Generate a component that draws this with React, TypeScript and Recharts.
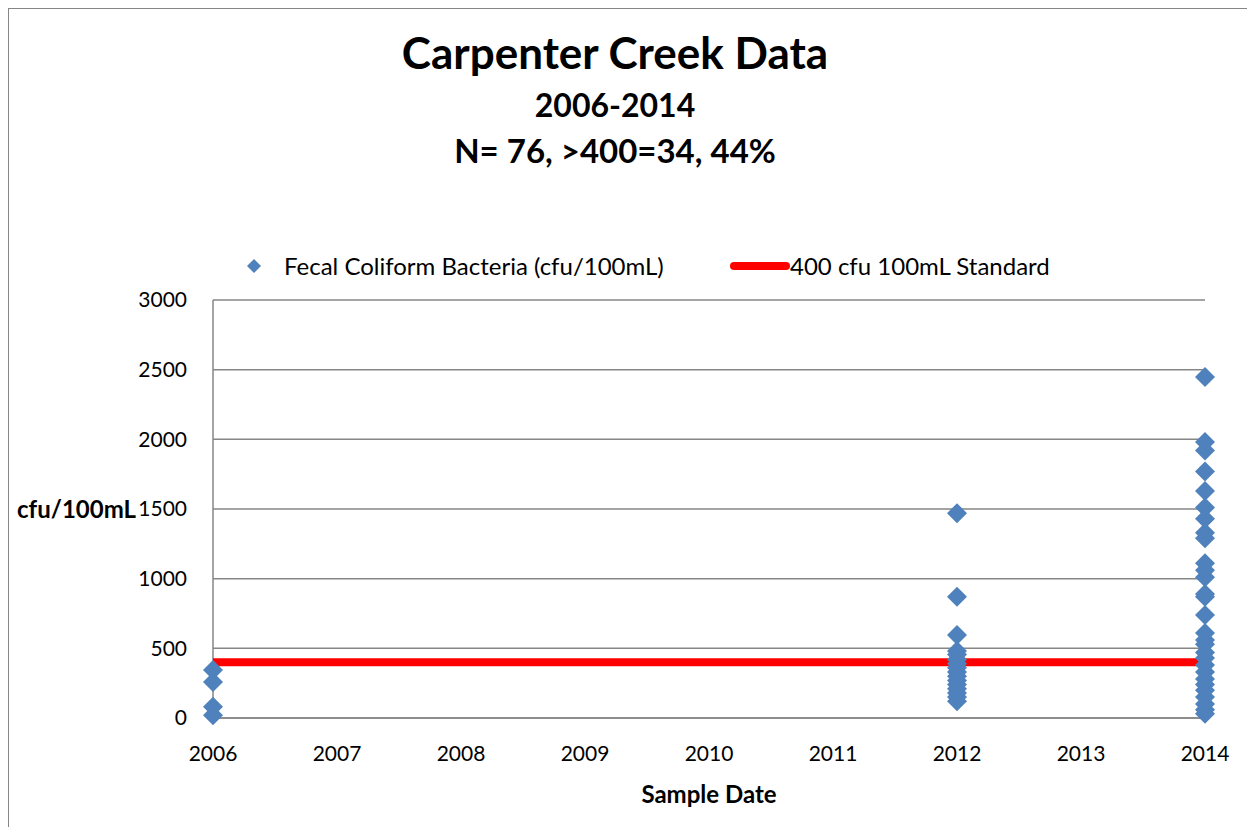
import React from 'react';
import {
  ScatterChart,
  Scatter,
  XAxis,
  YAxis,
  CartesianGrid,
  Legend,
} from 'recharts';

// sample values, grouped by sample year
const samples2006 = [345, 258, 80, 20];
const samples2012 = [1470, 870, 595, 480, 455, 420, 390, 360, 330, 300, 270, 240, 210, 180, 150, 120];
const samples2014 = [
  2448, 1980, 1920, 1770, 1630, 1510, 1430, 1330, 1290, 1110, 1060, 1010, 890, 870, 740,
  610, 560, 530, 470, 430, 380, 330, 280, 240, 200, 150, 100, 60, 30,
];

const yearTicks = [2006, 2007, 2008, 2009, 2010, 2011, 2012, 2013, 2014];
const valueTicks = [0, 500, 1000, 1500, 2000, 2500, 3000];

const standardValue = 400;
const standardYears = [2006, 2014];

const BLUE = '#4F81BD';
const RED = '#FF0000';
const GRID = '#868686';
const FONT = 'Lato, "Open Sans", sans-serif';

const bacteriaData = [
  ...samples2006.map((y) => ({ x: 2006, y })),
  ...samples2012.map((y) => ({ x: 2012, y })),
  ...samples2014.map((y) => ({ x: 2014, y })),
];

const standardData = standardYears.map((x) => ({ x, y: standardValue }));

const Diamond = (props: any) => {
  const { cx, cy } = props;
  const r = 10;
  return (
    <path
      d={`M${cx},${cy - r} L${cx + r},${cy} L${cx},${cy + r} L${cx - r},${cy} Z`}
      fill={BLUE}
    />
  );
};

const NoShape = () => <g />;

const CustomLegend = () => (
  <div
    style={{
      position: 'relative',
      height: 29,
      fontFamily: FONT,
      fontSize: 24,
      lineHeight: '29px',
      color: '#000',
    }}
  >
    <svg width={14} height={14} style={{ position: 'absolute', left: 239, top: 8 }}>
      <path d="M7,0 L14,7 L7,14 L0,7 Z" fill={BLUE} />
    </svg>
    <span style={{ position: 'absolute', left: 276, top: 0, whiteSpace: 'nowrap' }}>
      Fecal Coliform Bacteria (cfu/100mL)
    </span>
    <div
      style={{
        position: 'absolute',
        left: 722,
        top: 11,
        width: 60,
        height: 8,
        borderRadius: 4,
        background: RED,
      }}
    />
    <span style={{ position: 'absolute', left: 782, top: 0, whiteSpace: 'nowrap' }}>
      400 cfu 100mL Standard
    </span>
  </div>
);

const App = () => {
  return (
    <div
      style={{
        position: 'relative',
        width: 1247,
        height: 819,
        borderTop: '1px solid #868686',
        borderLeft: '1px solid #868686',
        boxSizing: 'border-box',
        background: '#fff',
        fontFamily: FONT,
      }}
    >
      <div
        style={{
          position: 'absolute',
          left: 0,
          width: 1212,
          top: 0,
          textAlign: 'center',
          fontWeight: 700,
          color: '#000',
        }}
      >
        <div style={{ position: 'absolute', top: 17, width: '100%', fontSize: 44 }}>
          Carpenter Creek Data
        </div>
        <div style={{ position: 'absolute', top: 76, width: '100%', fontSize: 32 }}>
          2006-2014
        </div>
        <div style={{ position: 'absolute', top: 121, width: '100%', fontSize: 33 }}>
          N= 76, &gt;400=34, 44%
        </div>
      </div>
      <div style={{ position: 'absolute', left: -1, top: -1 }}>
        <ScatterChart
          width={1247}
          height={819}
          margin={{ top: 263, right: 50, left: 0, bottom: 0 }}
        >
          <CartesianGrid vertical={false} stroke={GRID} strokeWidth={1.5} />
          <XAxis
            type="number"
            dataKey="x"
            domain={[2006, 2014]}
            ticks={yearTicks}
            interval={0}
            height={109}
            tickLine={false}
            tickSize={0}
            tickMargin={28}
            axisLine={{ stroke: GRID, strokeWidth: 1.5 }}
            tick={{ fill: '#000', fontSize: 21, fontFamily: FONT }}
            label={{
              value: 'Sample Date',
              position: 'insideTop',
              offset: 68,
              style: { fill: '#000', fontSize: 24, fontWeight: 700, fontFamily: FONT },
            }}
          />
          <YAxis
            type="number"
            dataKey="y"
            domain={[0, 3000]}
            ticks={valueTicks}
            interval={0}
            width={205}
            tickLine={false}
            tickSize={0}
            tickMargin={26}
            axisLine={{ stroke: GRID, strokeWidth: 1.5 }}
            tick={{ fill: '#000', fontSize: 21, fontFamily: FONT }}
            label={{
              value: 'cfu/100mL',
              position: 'insideLeft',
              offset: 9,
              style: {
                fill: '#000',
                fontSize: 24,
                fontWeight: 700,
                fontFamily: FONT,
                textAnchor: 'start',
              },
            }}
          />
          <Legend
            verticalAlign="top"
            align="left"
            wrapperStyle={{ top: 243, left: 0, width: 1247 }}
            content={() => <CustomLegend />}
          />
          <Scatter
            name="400 cfu 100mL Standard"
            data={standardData}
            line={{ stroke: RED, strokeWidth: 8 }}
            shape={NoShape}
            isAnimationActive={false}
          />
          <Scatter
            name="Fecal Coliform Bacteria (cfu/100mL)"
            data={bacteriaData}
            fill={BLUE}
            shape={Diamond}
            isAnimationActive={false}
          />
        </ScatterChart>
      </div>
    </div>
  );
};

export default App;
